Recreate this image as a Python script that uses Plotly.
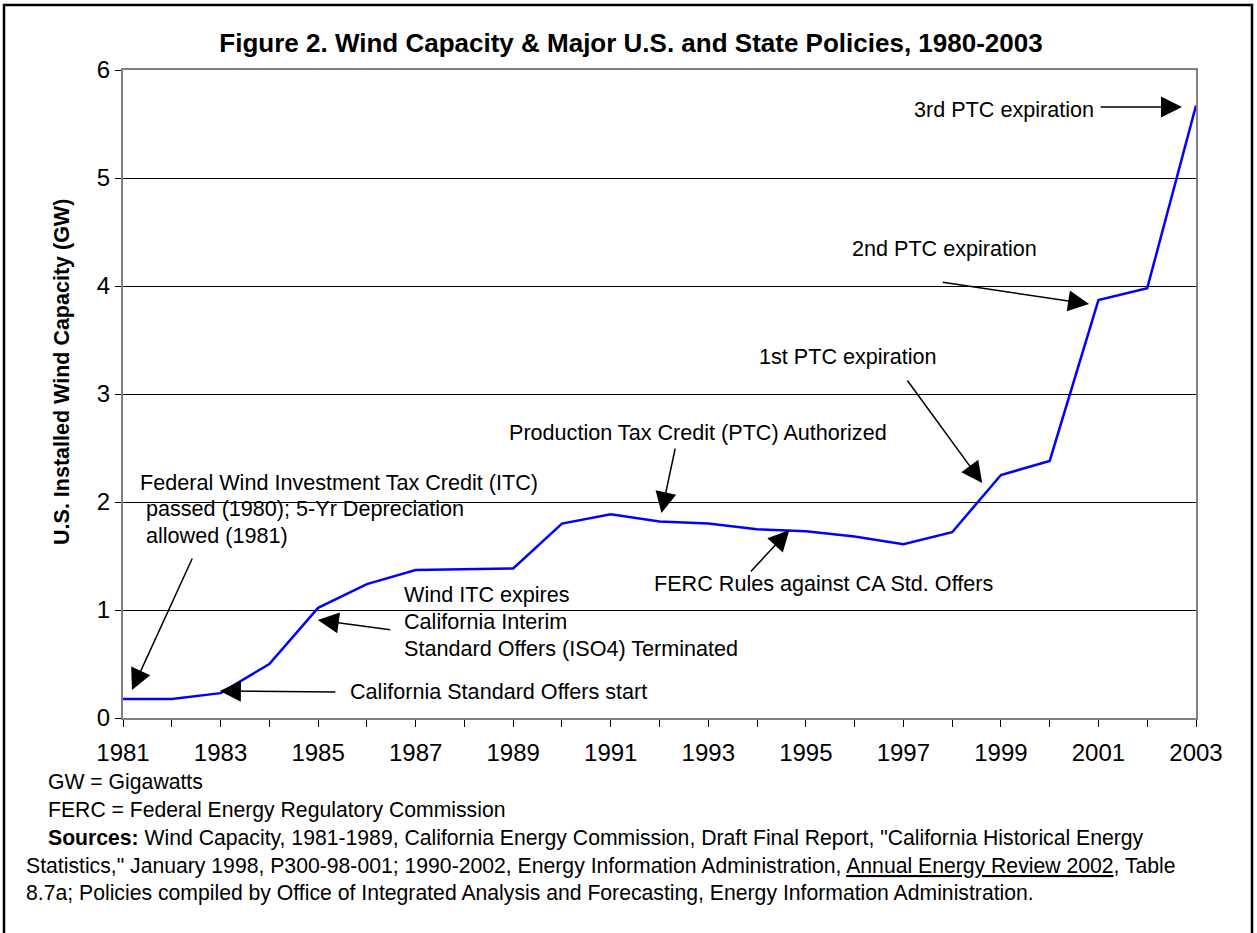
import plotly.graph_objects as go

# ---- data ----
years = list(range(1981, 2004))
capacity_gw = [0.176, 0.176, 0.23, 0.50, 1.02, 1.24, 1.37, 1.38, 1.385, 1.80,
               1.886, 1.82, 1.80, 1.747, 1.73, 1.68, 1.61, 1.72, 2.25, 2.38,
               3.87, 3.98, 5.67]
x_tick_vals = list(range(1981, 2004, 2))
x_tick_text = [str(v) for v in x_tick_vals]
y_tick_vals = [0, 1, 2, 3, 4, 5, 6]

title_text = "Figure 2. Wind Capacity &amp; Major U.S. and State Policies, 1980-2003"
y_title = "U.S. Installed Wind Capacity (GW)"

# policy labels: (text, year, GW) left-anchored
policy_labels = [
    ("Federal Wind Investment Tax Credit (ITC)", 1981.307, 2.185),
    ("passed (1980); 5-Yr Depreciation", 1981.43, 1.944),
    ("allowed (1981)", 1981.43, 1.694),
    ("Wind ITC expires", 1986.715, 1.139),
    ("California Interim", 1986.715, 0.898),
    ("Standard Offers (ISO4) Terminated", 1986.715, 0.648),
    ("California Standard Offers start", 1985.609, 0.25),
    ("Production Tax Credit (PTC) Authorized", 1988.866, 2.648),
    ("FERC Rules against CA Std. Offers", 1991.836, 1.25),
    ("1st PTC expiration", 1994.007, 3.343),
    ("2nd PTC expiration", 1995.913, 4.343),
    ("3rd PTC expiration", 1997.183, 5.63),
]
# arrows: (tail year, tail GW, head year, head GW)
policy_arrows = [
    (1982.434, 1.491, 1981.184, 0.259),
    (1986.51, 0.815, 1984.994, 0.907),
    (1985.384, 0.241, 1982.987, 0.250),
    (1992.328, 2.509, 1992.041, 1.898),
    (1993.844, 1.343, 1994.663, 1.741),
    (1997.06, 3.139, 1998.616, 2.176),
    (1997.777, 4.037, 2000.808, 3.833),
    (2001.013, 5.657, 2002.713, 5.657),
]

footnotes = [
    ("GW = Gigawatts", -0.0718, -0.0988),
    ("FERC = Federal Energy Regulatory Commission", -0.0718, -0.1420),
    ("<b>Sources:</b> Wind Capacity, 1981-1989, California Energy Commission, Draft Final Report, \"California Historical Energy",
     -0.0718, -0.1852),
    ("Statistics,\" January 1998, P300-98-001; 1990-2002, Energy Information Administration, <u>Annual Energy Review 2002</u>, Table",
     -0.0923, -0.2284),
    ("8.7a; Policies compiled by Office of Integrated Analysis and Forecasting, Energy Information Administration.",
     -0.0923, -0.2701),
]

FONT = "Arial, 'Liberation Sans', sans-serif"

fig = go.Figure()
fig.add_trace(go.Scatter(x=years, y=capacity_gw, mode="lines",
                         line=dict(color="#0000FF", width=2.5),
                         hoverinfo="x+y", showlegend=False))

annotations = []
for txt, xv, yv in policy_labels:
    annotations.append(dict(text=txt, x=xv, y=yv, xref="x", yref="y",
                            xanchor="left", yanchor="middle", showarrow=False,
                            font=dict(family=FONT, size=21.6, color="black")))
for tx, ty, hx, hy in policy_arrows:
    annotations.append(dict(text="", x=hx, y=hy, ax=tx, ay=ty,
                            xref="x", yref="y", axref="x", ayref="y",
                            showarrow=True, arrowhead=2, arrowsize=2.8,
                            arrowwidth=1.5, arrowcolor="black"))
for txt, xp, yp in footnotes:
    annotations.append(dict(text=txt, x=xp, y=yp, xref="paper", yref="paper",
                            xanchor="left", yanchor="middle", showarrow=False,
                            font=dict(family=FONT, size=21.2, color="black")))
annotations.append(dict(text="<b>" + y_title + "</b>", x=-0.0569, y=0.534,
                        xref="paper", yref="paper", textangle=-90,
                        xanchor="center", yanchor="middle", showarrow=False,
                        font=dict(family=FONT, size=21.5, color="black")))

fig.update_layout(
    width=1257, height=933,
    margin=dict(l=123, r=61, t=70, b=215),
    paper_bgcolor="white", plot_bgcolor="white",
    font=dict(family=FONT, color="black"),
    title=dict(text="<b>" + title_text + "</b>", x=631 / 1257, xref="container",
               y=1 - 43 / 933, yref="container", xanchor="center", yanchor="middle",
               font=dict(family=FONT, size=26, color="black")),
    xaxis=dict(range=[1981, 2003], tickvals=x_tick_vals, ticktext=x_tick_text,
               ticks="outside", ticklen=7, tickcolor="black", tickwidth=1,
               minor=dict(dtick=1, tick0=1981, ticks="outside", ticklen=7,
                          tickcolor="black", tickwidth=1, showgrid=False),
               showgrid=False, zeroline=False,
               showline=True, linecolor="#808080", linewidth=2, mirror=True,
               tickfont=dict(family=FONT, size=24, color="black"),
               ticklabelstandoff=5),
    yaxis=dict(range=[0, 6], tickvals=y_tick_vals,
               ticks="outside", ticklen=6, tickcolor="black", tickwidth=1,
               showgrid=True, gridcolor="black", gridwidth=1, zeroline=False,
               showline=True, linecolor="#808080", linewidth=2, mirror=True,
               tickfont=dict(family=FONT, size=24, color="black")),
    annotations=annotations,
    shapes=[dict(type="rect", xref="paper", yref="paper",
                 x0=-0.1109, x1=1.0522, y0=-0.36, y1=1.1003,
                 line=dict(color="black", width=2.5), fillcolor="rgba(0,0,0,0)")],
)

fig.write_html("out.html",
               config={"displayModeBar": False},
               post_script="document.body.style.margin='0';document.body.style.overflow='hidden';")
